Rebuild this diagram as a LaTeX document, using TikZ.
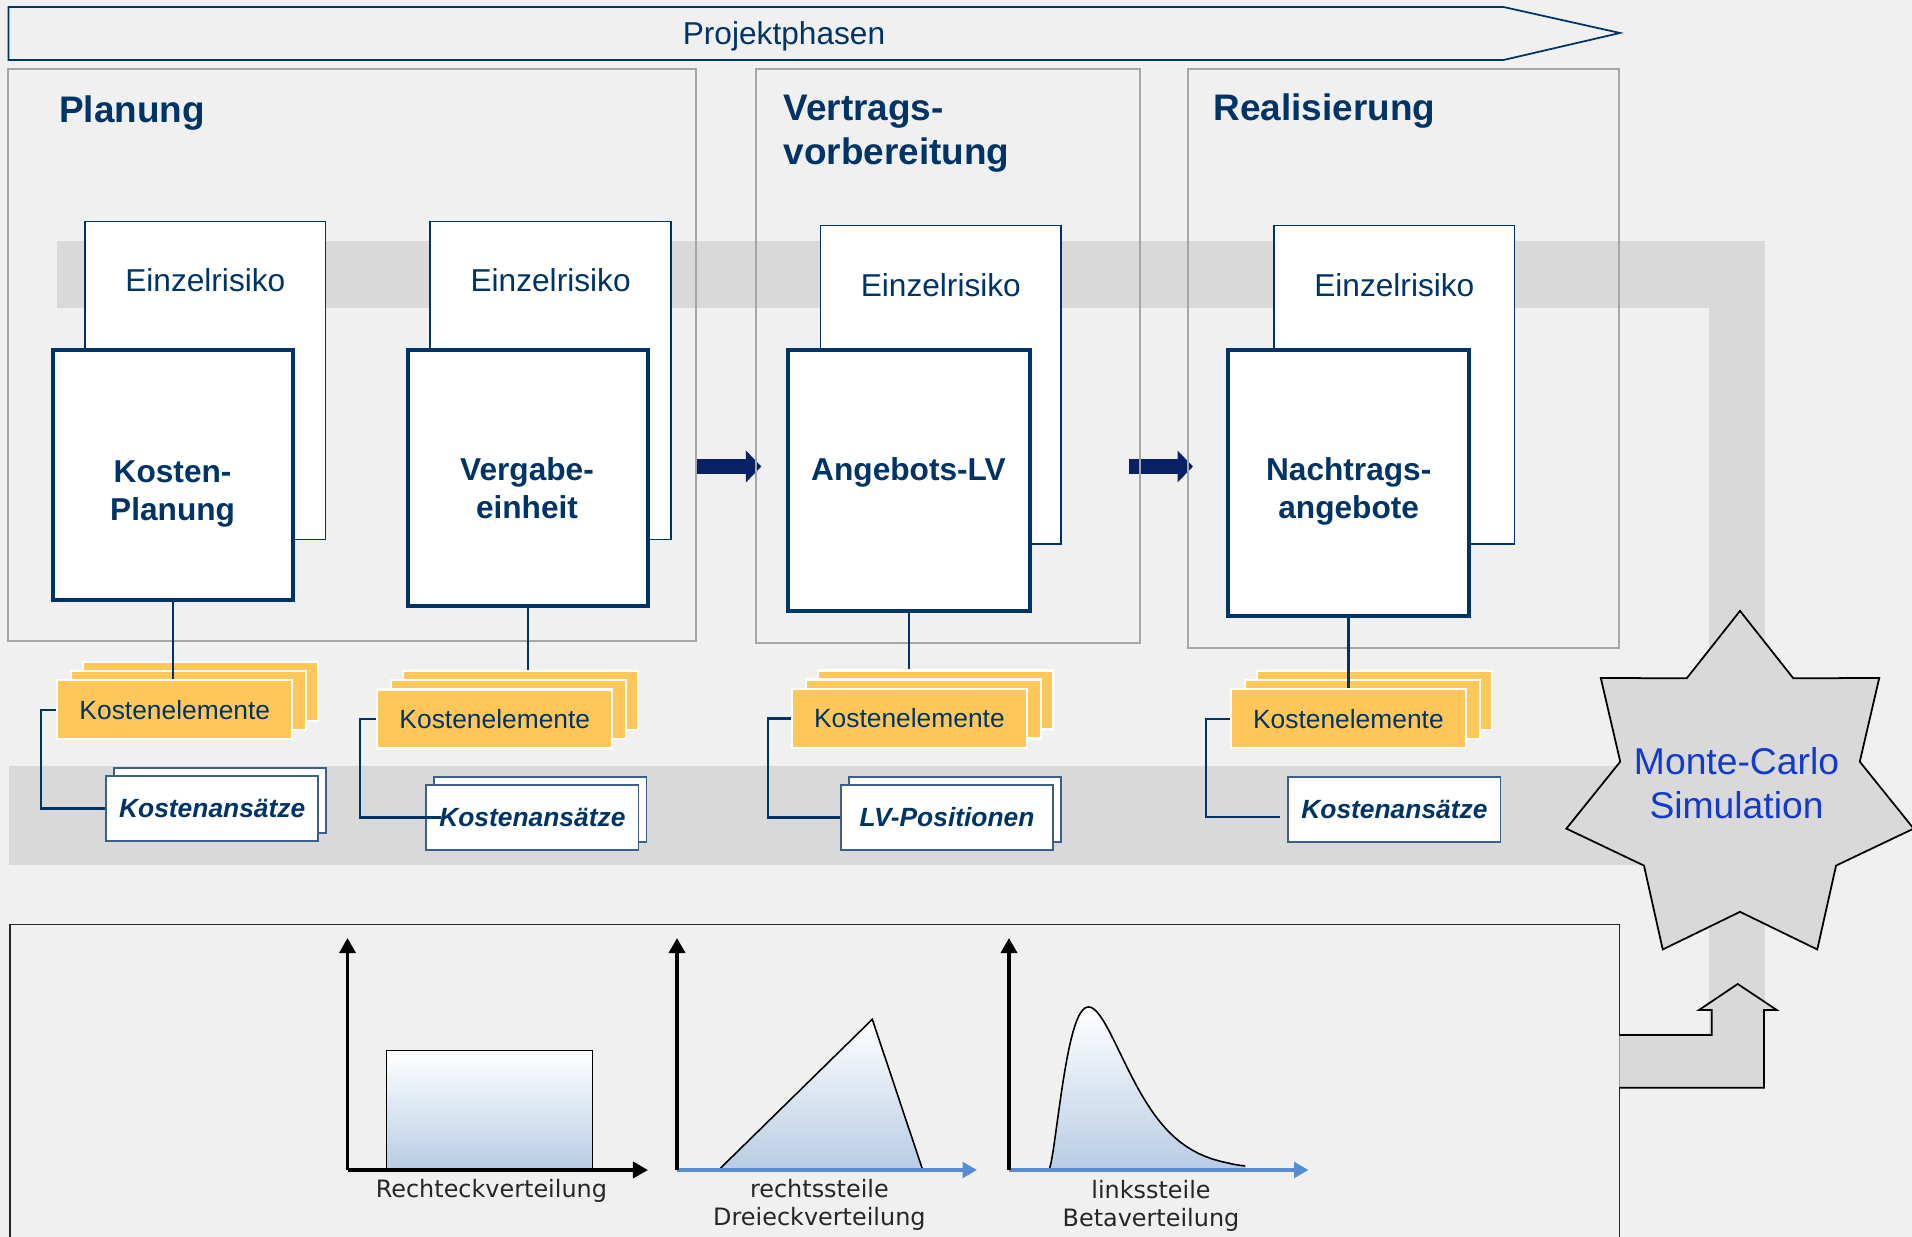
\documentclass[tikz,border=0pt]{standalone}
\usepackage{fontspec}
\setmainfont{Liberation Sans}
\newfontfamily\distfont{DejaVu Sans}
\usetikzlibrary{shapes.geometric,arrows.meta,calc}
\definecolor{darkblue}{RGB}{0,51,102}
\definecolor{navy}{RGB}{10,32,100}
\definecolor{bggray}{RGB}{240,240,240}
\definecolor{bandgray}{RGB}{217,217,217}
\definecolor{panelgray}{RGB}{166,166,166}
\definecolor{cardorange}{RGB}{255,199,89}
\definecolor{slateblue}{RGB}{60,96,140}
\definecolor{mcblue}{RGB}{20,58,205}
\definecolor{axisblue}{RGB}{85,142,213}
\definecolor{distfill}{RGB}{184,204,228}
\begin{document}
\begin{tikzpicture}[x=0.01cm,y=-0.01cm,line join=miter,
    panel/.style={draw=panelgray,line width=0.5pt,inner sep=0pt},
    title/.style={font=\fontsize{10.5}{12.5}\selectfont\bfseries,text=darkblue,align=left,anchor=base west,inner sep=0pt},
    riskbox/.style={draw=darkblue,fill=white,line width=0.45pt,minimum width=2.405cm,minimum height=3.18cm,inner sep=0pt},
    risktext/.style={font=\fontsize{9}{11}\selectfont,text=darkblue},
    objbox/.style={draw=darkblue,fill=white,line width=1.15pt,minimum width=2.40cm,inner sep=0pt},
    objtext/.style={font=\fontsize{9}{10.75}\selectfont\bfseries,text=darkblue,align=center},
    card/.style={draw=white,fill=cardorange,line width=0.6pt,minimum width=2.35cm,minimum height=0.59cm,inner sep=0pt},
    cardtext/.style={font=\fontsize{7.5}{9}\selectfont,text=darkblue},
    rate/.style={draw=slateblue,fill=white,line width=0.5pt,minimum width=2.12cm,minimum height=0.645cm,inner sep=0pt,
        font=\fontsize{7.5}{9}\selectfont\bfseries\itshape,text=darkblue},
    link/.style={draw=darkblue,line width=0.6pt},
    phasearrow/.style={draw=navy,line width=4.3pt,-{Triangle[length=4.4pt,width=8.8pt]}},
    axis/.style={line width=0.95pt,-{Triangle[length=4.3pt,width=4.6pt]}},
    blueaxis/.style={draw=axisblue,line width=1.1pt,-{Triangle[length=4.1pt,width=4.4pt]}},
    distshade/.style={top color=white,bottom color=distfill},
    distline/.style={draw=black,line width=0.45pt},
    distlabel/.style={font=\distfont\fontsize{6.8}{8}\selectfont,align=center,text=black!85}]
    \useasboundingbox (0,0) rectangle (1912,1237);
    \fill[bggray] (0,0) rectangle (1912,1237);
    % graue Baender
    \fill[bandgray] (57,241.5) rectangle (1765,308.5);
    \fill[bandgray] (1709,241.5) rectangle (1765,1088);
    \fill[bandgray] (8.5,766) rectangle (1740,865);
    % Projektphasen
    \draw[darkblue,line width=0.5pt] (8.5,7) -- (1503.5,7) -- (1620,33) -- (1503.5,60) -- (8.5,60) -- cycle;
    \node[risktext] (pp) at (784,36) {Projektphasen};
    \draw[phasearrow] (697,466.5) -- (761.4,466.5);
    \draw[phasearrow] (1129,466.5) -- (1193,466.5);
    % Phasen
    \node[panel,minimum width=6.875cm,minimum height=5.71cm] (pl) at (352.25,355) {};
    \node[panel,minimum width=3.84cm,minimum height=5.731cm] (vv) at (948,356) {};
    \node[panel,minimum width=4.307cm,minimum height=5.78cm] (re) at (1403.3,358.5) {};
    \node[title] (t1) at (58.5,123) {Planung};
    \node[title] (t2) at (783,164.6) {Vertrags-\\vorbereitung};
    \node[title] (t3) at (1213,120.7) {Realisierung};
    \foreach \n/\cx/\cy in {1/205.3/380.5,2/550.6/380.5,3/940.8/384.7,4/1394.3/384.7}{
        \node[riskbox] (er\n) at (\cx,\cy) {};
        \node[risktext] (ert\n) at (\cx,\cy-100) {Einzelrisiko};
    }
    \node[objbox,minimum height=2.50cm] (fb1) at (172.6,475) {};
    \node[objbox,minimum height=2.56cm] (fb2) at (528,478) {};
    \node[objbox,minimum width=2.427cm,minimum height=2.61cm] (fb3) at (909,480.5) {};
    \node[objbox,minimum height=2.65cm] (fb4) at (1348.5,483) {};
    \node[objtext] (fbt1) at (172.6,494) {Kosten-\\Planung};
    \node[objtext] (fbt2) at (527,488) {Vergabe-\\einheit};
    \node[objtext] (fbt3) at (908.5,472) {Angebots-LV};
    \node[objtext] (fbt4) at (1348.7,491) {Nachtrags-\\angebote};
    % Kostenelemente
    \foreach \n/\cx/\cy in {1/174.8/709.7,2/494.8/719,3/909.4/718.5,4/1348.4/718.7}{
        \node[card] (kec\n) at (\cx+26,\cy-18.5) {};
        \node[card] (keb\n) at (\cx+14,\cy-9.5) {};
        \node[card,cardtext] (ke\n) at (\cx,\cy) {Kostenelemente};
    }
    \node[rate] (ka1b) at (220.2,800.5) {};
    \node[rate] (ka1) at (212.2,808.5) {Kostenansätze};
    \node[rate] (ka2b) at (540.4,809.5) {};
    \node[rate] (ka2) at (532.4,817.5) {Kostenansätze};
    \node[rate] (lv3b) at (955,809.5) {};
    \node[rate] (lv3) at (947,817.5) {LV-Positionen};
    \node[rate] (ka4) at (1394.4,809.5) {Kostenansätze};
    \coordinate (ka4in) at (1280,817);
    \draw[link] (fb1.south) -- (fb1.south |- ke1.north);
    \draw[link] (fb2.south) -- (fb2.south |- kec2.north);
    \draw[link] (fb3.south) -- (fb3.south |- kec3.north);
    \draw[link] (fb4.south) -- (fb4.south |- ke4.north);
    \draw[link] (ke1.west) -- ++(-15.6,0) |- (ka1.west);
    \draw[link] (ke2.west) -- ++(-16.3,0) |- ($(ka2.west)+(16,0)$);
    \draw[link] (ke3.west) -- ++(-23,0) |- (lv3.west);
    \draw[link] (ke4.west) -- ++(-24,0) |- (ka4in);
    % Simulation
    \node[star,star points=7,star point ratio=1.45,minimum size=3.56cm,draw=black,fill=bandgray,line width=0.5pt,inner sep=0pt] (mc) at (1740,789) {};
    \node[font=\fontsize{10.6}{12.5}\selectfont,text=mcblue,align=center] (mct) at (1736.5,783) {Monte-Carlo\\Simulation};
    % Verteilungen
    \draw[black!85,line width=0.4pt] (9.8,1245) -- (9.8,924.3) -- (1619.4,924.3) -- (1619.4,1245);
    \draw[fill=bandgray,line width=0.5pt] (1619.4,1035) -- (1711.7,1035) -- (1711.7,1010) -- (1699,1010) -- (1737.7,984)
        -- (1776.7,1010) -- (1764,1010) -- (1764,1087.7) -- (1619.4,1087.7);
    \coordinate (o1) at (347.5,1170);
    \coordinate (o2) at (677,1170);
    \coordinate (o3) at (1009,1170);
    \fill[distshade] (386.5,1170) rectangle (592.6,1050.5);
    \draw[distline] (386.5,1170) -- (386.5,1050.5) -- (592.6,1050.5) -- (592.6,1170);
    \fill[distshade] (718.6,1170) -- (872.3,1019.3) -- (922.7,1170) -- cycle;
    \draw[distline] (718.6,1170) -- (872.3,1019.3) -- (922.7,1170);
    \fill[distshade] (1049,1170) -- plot[domain=0.2:196,samples=100] ({1049+\x},{1170-163*((\x/39.5)*exp(1-\x/39.5))^1.57}) -- (1245,1170) -- cycle;
    \draw[distline] (1049,1170) -- plot[domain=0.2:196,samples=100] ({1049+\x},{1170-163*((\x/39.5)*exp(1-\x/39.5))^1.57});
    \draw[axis] (o1) -- (347.5,938);
    \draw[axis] (o1) -- (648,1170);
    \draw[blueaxis] (o2) -- (977,1170);
    \draw[axis] (o2) -- (677,938);
    \draw[blueaxis] (o3) -- (1308.5,1170);
    \draw[axis] (o3) -- (1009,938);
    \node[distlabel] (l1) at (491.4,1191) {Rechteckverteilung};
    \node[distlabel] (l2) at (819.4,1205) {rechtssteile\\Dreieckverteilung};
    \node[distlabel] (l3) at (1151,1205.5) {linkssteile\\Betaverteilung};
\end{tikzpicture}
\end{document}
